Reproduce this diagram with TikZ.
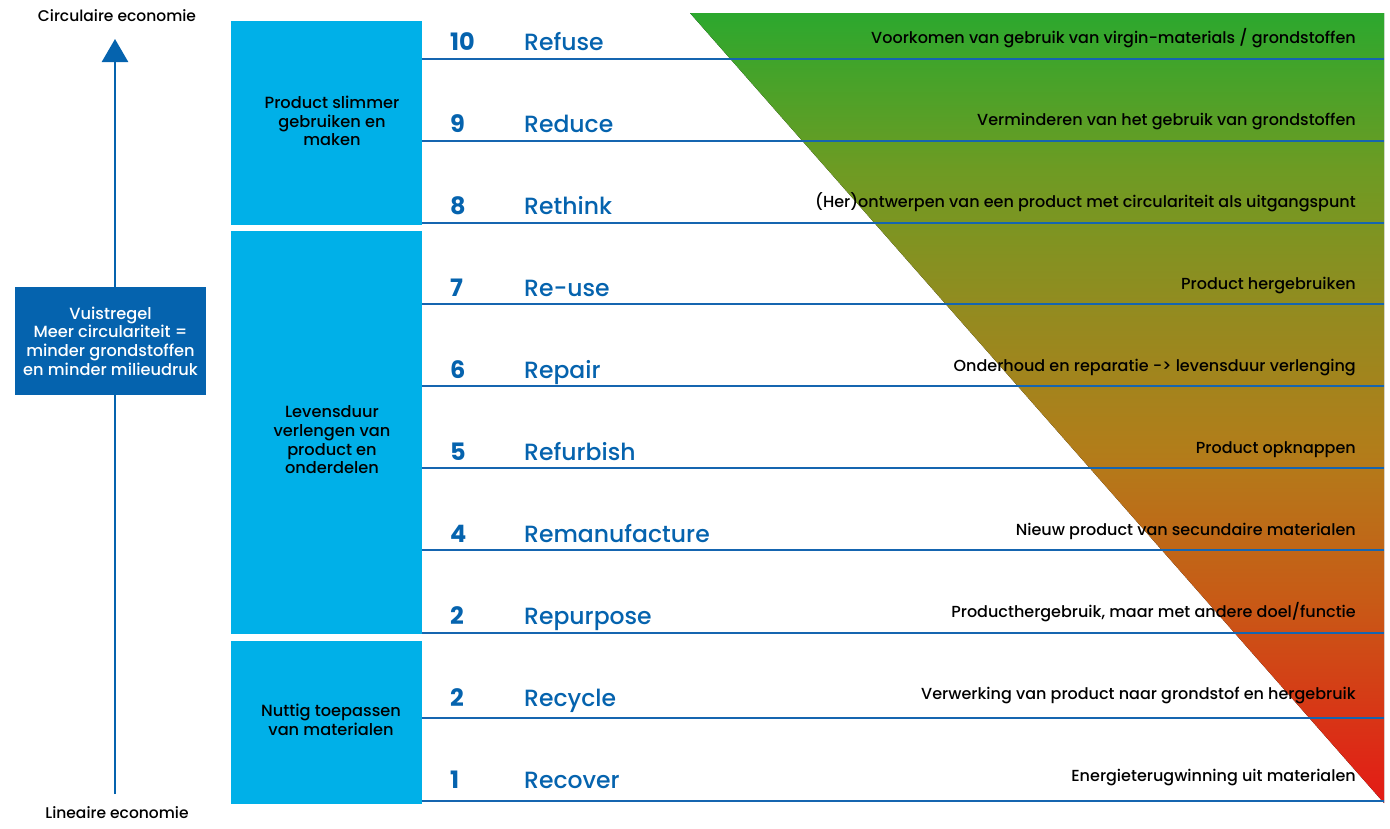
\documentclass[tikz,border=0pt]{standalone}
\usepackage{fontspec}
\setmainfont{Poppins}
\newfontfamily\medfont{Poppins Medium}
\usetikzlibrary{arrows.meta}
\definecolor{lightblue}{RGB}{0,176,232}
\definecolor{darkblue}{RGB}{5,99,174}
\definecolor{lineblue}{RGB}{21,101,176}
\definecolor{gA}{RGB}{44,168,46}
\definecolor{gB}{RGB}{110,155,35}
\definecolor{gC}{RGB}{145,140,32}
\definecolor{gD}{RGB}{178,125,26}
\definecolor{gE}{RGB}{200,90,22}
\definecolor{gF}{RGB}{228,26,22}
\pgfdeclareverticalshading{trishade}{100bp}{color(0bp)=(gF); color(25bp)=(gF); color(37.8bp)=(gE); color(47.3bp)=(gD); color(56.8bp)=(gC); color(65bp)=(gB); color(75bp)=(gA); color(100bp)=(gA)}
\tikzset{
  groupbox/.style={fill=lightblue, draw=none},
  grouptext/.style={align=center, font=\medfont\fontsize{16.2}{18.7}\selectfont, text=black},
  rowline/.style={draw=lineblue, line width=2.4pt},
  numtext/.style={anchor=base west, text=darkblue, font=\fontsize{24}{28}\selectfont\bfseries},
  labtext/.style={anchor=base west, text=darkblue, font=\medfont\fontsize{23.5}{28}\selectfont},
  desctext/.style={anchor=base east, text=black, font=\medfont\fontsize{16}{18}\selectfont},
  axistext/.style={anchor=base, text=black, font=\medfont\fontsize{15.5}{18}\selectfont},
}
\begin{document}
\begin{tikzpicture}[x=1pt,y=-1pt]
\useasboundingbox (0,0) rectangle (1390,828);
% gradient triangle
\fill[shading=trishade] (690,13) -- (1384,13) -- (1384,803) -- cycle;
% group boxes
\fill[groupbox] (231,21) rectangle (422,225);
\fill[groupbox] (231,231) rectangle (422,634);
\fill[groupbox] (231,641) rectangle (422,804);
\node[grouptext] (g1) at (332,121) {Product slimmer\\gebruiken en\\maken};
\node[grouptext] (g2) at (332,440) {Levensduur\\verlengen van\\product en\\onderdelen};
\node[grouptext] (g3) at (331,720) {Nuttig toepassen\\van materialen};
% row lines
\foreach \y [count=\i] in {59,141,223,304,386,468,550,633,718,801} {
  \coordinate (l\i) at (422,\y);
  \coordinate (r\i) at (1384,\y);
  \draw[rowline] (l\i) -- (r\i);
}
% rows
\foreach \n/\lab/\desc/\y [count=\i] in {
 10/Refuse/{Voorkomen van gebruik van virgin-materials / grondstoffen}/50,
 9/Reduce/{Verminderen van het gebruik van grondstoffen}/132,
 8/Rethink/{(Her)ontwerpen van een product met circulariteit als uitgangspunt}/214,
 7/Re-use/{Product hergebruiken}/296,
 6/Repair/{Onderhoud en reparatie -> levensduur verlenging}/378,
 5/Refurbish/{Product opknappen}/460,
 4/Remanufacture/{Nieuw product van secundaire materialen}/542,
 2/Repurpose/{Producthergebruik, maar met andere doel/functie}/624,
 2/Recycle/{Verwerking van product naar grondstof en hergebruik}/706,
 1/Recover/{Energieterugwinning uit materialen}/788} {
  \node[numtext, inner xsep=0pt] (n\i) at (450,\y) {\n};
  \node[labtext, inner xsep=0pt] (t\i) at (524,\y) {\lab};
  \node[desctext, inner xsep=0pt] (d\i) at (1356,\y-7) {\desc};
}
% axis
\node[axistext, inner ysep=0pt] (circ) at (117,21) {Circulaire economie};
\node[axistext, inner ysep=0pt] (lin) at (117,818) {Lineaire economie};
\coordinate (abot) at (115,794);
\coordinate (atop) at (115,39);
\draw[draw=darkblue, line width=2.6pt, -{Triangle[width=26pt,length=23pt]}] (abot) -- (atop);
\node[fill=darkblue, minimum width=191pt, minimum height=108pt, inner sep=0pt] (rule) at (110.5,341) {};
\node[align=center, text=white, font=\medfont\fontsize{16.2}{18.7}\selectfont] (ruletext) at (rule.center) {Vuistregel\\Meer circulariteit =\\minder grondstoffen\\en minder milieudruk};
\end{tikzpicture}
\end{document}
